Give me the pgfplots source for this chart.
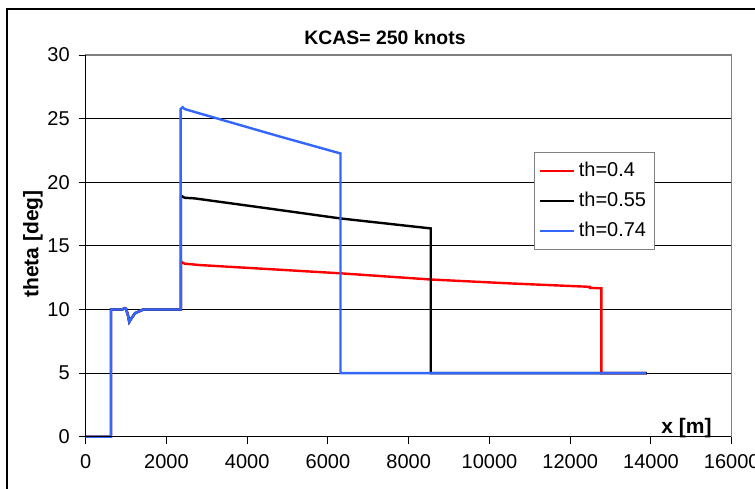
\documentclass[border=0pt]{standalone}
\usepackage{pgfplots}
\pgfplotsset{compat=1.18}
\usepackage{fontspec}
\setmainfont{Liberation Sans}
\definecolor{xlblue}{RGB}{51,102,255}
\begin{document}
\begin{tikzpicture}
\useasboundingbox (0,0) rectangle (377.5pt,244pt);
\draw[line width=0.6pt] (3.5pt,-1pt) -- (3.5pt,239.5pt) -- (380pt,239.5pt);
\node[font=\bfseries\fontsize{9.7}{11}\selectfont] at (192.5pt,225pt) {KCAS= 250 knots};
\node[font=\bfseries\fontsize{10.5}{12}\selectfont, rotate=90] at (16.5pt,122pt) {theta [deg]};
\begin{axis}[
  at={(42.85pt,25.65pt)}, anchor=south west,
  scale only axis, width=323pt, height=190.85pt,
  xmin=0, xmax=16000, ymin=0, ymax=30,
  xtick={0,2000,...,16000}, ytick={0,5,...,30},
  scaled x ticks=false,
  /pgf/number format/1000 sep={},
  /pgf/number format/assume math mode=true,
  tick label style={font=\fontsize{10}{12}\selectfont},
  xtick pos=left, ytick pos=left,
  tick align=outside, major tick length=3.5pt,
  tick style={black, line width=0.5pt},
  ymajorgrids, grid style={black, line width=0.5pt},
  axis line style={gray, line width=0.6pt},
  xticklabel style={yshift=-2pt},
  yticklabel style={xshift=-1pt},
  legend style={at={(0.694,0.7467)}, anchor=north west, draw=gray, line width=0.6pt,
    fill=white, font=\fontsize{10}{12}\selectfont, row sep=2.2pt,
    inner xsep=2pt, inner ysep=3pt},
  legend cell align=left,
  legend image code/.code={\draw[#1, line width=1.1pt] (0pt,0pt) -- (17pt,0pt);},
  clip=false,
]
\addplot[red, line width=1.2pt] table {
0 0
626 0
626 10
900 10
972 10.1
1000 10.05
1050 9.5
1079 9.03
1110 9.2
1220 9.7
1426 10.0
2360 10.0
2360 13.75
2450 13.6
2830 13.49
4500 13.18
6320 12.84
8522 12.36
10500 12.05
12483 11.78
12483 11.70
12772 11.66
12772 5
13900 5
};
\addlegendentry{th=0.4}
\addplot[black, line width=1.2pt] table {
0 0
626 0
626 10
900 10
972 10.1
1000 10.05
1050 9.5
1079 9.03
1110 9.2
1220 9.7
1426 10.0
2360 10.0
2360 18.95
2450 18.78
2700 18.73
4500 17.95
6320 17.15
8547 16.37
8547 5
13900 5
};
\addlegendentry{th=0.55}
\addplot[xlblue, line width=1.2pt] table {
0 0
626 0
626 10
900 10
972 10.1
1000 10.05
1050 9.5
1079 9.03
1110 9.2
1220 9.7
1426 10.0
2350 10.0
2350 25.75
2400 25.9
2450 25.75
3324 24.95
4800 23.6
6312 22.26
6312 5
13886 5
};
\addlegendentry{th=0.74}
\draw[black, line width=0.6pt] (rel axis cs:0,1) -- (rel axis cs:0,0) -- (rel axis cs:1,0);
\draw[gray, line width=0.6pt] (rel axis cs:0,1) -- (rel axis cs:1,1) -- (rel axis cs:1,0);
\node[font=\bfseries\fontsize{10.5}{12}\selectfont] at (axis cs:14880,0.7) {x [m]};
\end{axis}
\end{tikzpicture}
\end{document}
